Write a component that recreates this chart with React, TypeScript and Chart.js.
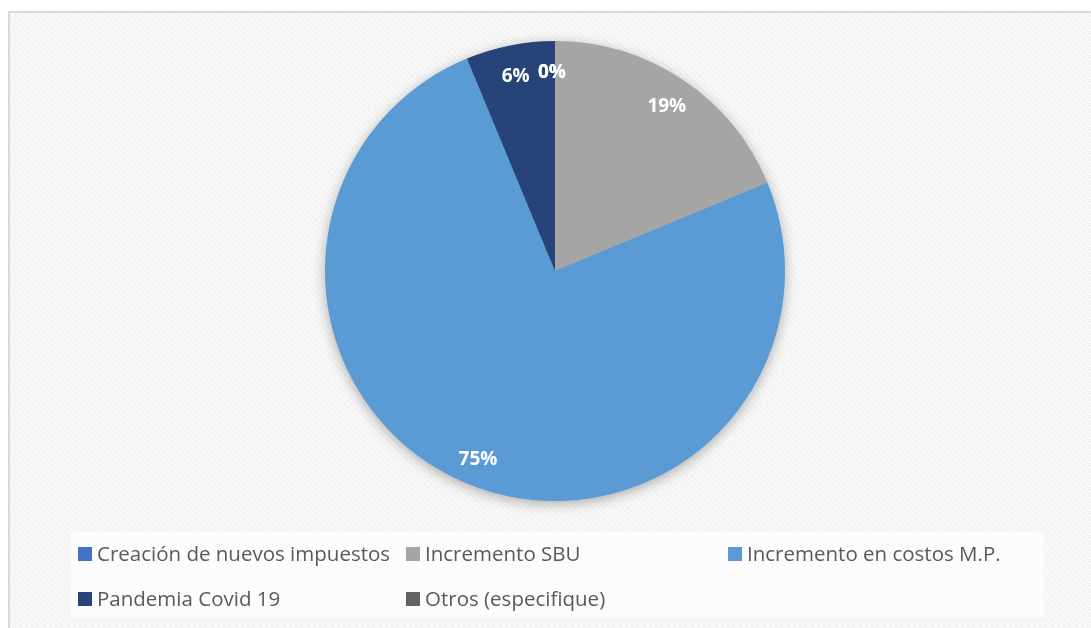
import React, { useEffect, useRef } from "react";
import { Chart, registerables } from "chart.js";

Chart.register(...registerables);

const categories = [
  "Creación de nuevos impuestos",
  "Incremento SBU",
  "Incremento en costos M.P.",
  "Pandemia Covid 19",
  "Otros (especifique)",
];
const responses = [0, 3, 12, 1, 0];
const sliceColors = ["#4472C4", "#A5A5A5", "#5B9BD5", "#264478", "#636363"];
const legendColumns = [78, 406, 728];
const legendRows = [554, 599];

const W = 1091;
const H = 628;

function makePattern(ctx: CanvasRenderingContext2D) {
  const c = document.createElement("canvas");
  c.width = 6;
  c.height = 6;
  const p = c.getContext("2d")!;
  p.fillStyle = "#fbfbfb";
  p.fillRect(0, 0, 6, 6);
  p.fillStyle = "#f1f1f1";
  for (let i = 0; i < 6; i++) {
    p.fillRect(i, i, 2, 1);
    p.fillRect((i + 3) % 6, i, 1, 1);
  }
  return ctx.createPattern(c, "repeat")!;
}

const backgroundPlugin = {
  id: "bgPlugin",
  beforeDraw(chart: any) {
    const ctx: CanvasRenderingContext2D = chart.ctx;
    ctx.save();
    ctx.fillStyle = "#ffffff";
    ctx.fillRect(0, 0, W, H);
    ctx.fillStyle = makePattern(ctx);
    ctx.fillRect(8, 11, W - 8, H - 11);
    ctx.strokeStyle = "#d9d9d9";
    ctx.lineWidth = 2;
    ctx.beginPath();
    ctx.moveTo(9, H);
    ctx.lineTo(9, 12);
    ctx.lineTo(W, 12);
    ctx.stroke();
    // legend box
    ctx.fillStyle = "#fcfcfc";
    ctx.fillRect(70, 532, 973, 85);
    ctx.restore();
  },
  beforeDatasetsDraw(chart: any) {
    const meta = chart.getDatasetMeta(0);
    const arc = meta.data[0];
    if (!arc) return;
    const ctx: CanvasRenderingContext2D = chart.ctx;
    ctx.save();
    ctx.shadowColor = "rgba(0,0,0,0.35)";
    ctx.shadowBlur = 14;
    ctx.shadowOffsetX = 0;
    ctx.shadowOffsetY = 3;
    ctx.fillStyle = "#5B9BD5";
    ctx.beginPath();
    ctx.arc(arc.x, arc.y, arc.outerRadius - 1, 0, Math.PI * 2);
    ctx.fill();
    ctx.restore();
  },
  afterDatasetsDraw(chart: any) {
    const ctx: CanvasRenderingContext2D = chart.ctx;
    const meta = chart.getDatasetMeta(0);
    const data: number[] = chart.data.datasets[0].data;
    const total = data.reduce((a, b) => a + b, 0);
    ctx.save();
    ctx.fillStyle = "#ffffff";
    ctx.font = "bold 19px 'Open Sans', sans-serif";
    ctx.textAlign = "center";
    ctx.textBaseline = "middle";
    meta.data.forEach((el: any, i: number) => {
      const mid = (el.startAngle + el.endAngle) / 2;
      const r = el.outerRadius * 0.875;
      let x = el.x + Math.cos(mid) * r;
      let y = el.y + Math.sin(mid) * r + 3;
      const pct = Math.round((data[i] / total) * 100) + "%";
      if (data[i] === 0) {
        x -= 3;
      }
      ctx.fillText(pct, x, y);
    });
    ctx.restore();
  },
  afterDraw(chart: any) {
    const ctx: CanvasRenderingContext2D = chart.ctx;
    const labels: string[] = chart.data.labels;
    const colors: string[] = chart.data.datasets[0].backgroundColor;
    ctx.save();
    ctx.font = "20.5px 'Open Sans', sans-serif";
    ctx.textBaseline = "middle";
    ctx.textAlign = "left";
    labels.forEach((lab, i) => {
      const col = i % 3;
      const row = Math.floor(i / 3);
      const x = legendColumns[col];
      const y = legendRows[row];
      ctx.fillStyle = colors[i];
      ctx.fillRect(x, y - 7, 14, 14);
      ctx.fillStyle = "#595959";
      ctx.fillText(lab, x + 19, y + 1);
    });
    ctx.restore();
  },
};

export default function App() {
  const ref = useRef<HTMLCanvasElement>(null);
  useEffect(() => {
    if (!ref.current) return;
    const chart = new Chart(ref.current, {
      type: "pie",
      data: {
        labels: categories,
        datasets: [
          {
            data: responses,
            backgroundColor: sliceColors,
            borderWidth: 0,
          },
        ],
      },
      options: {
        responsive: false,
        animation: false,
        layout: { padding: { top: 41, bottom: 127, left: 325, right: 306 } },
        plugins: {
          legend: { display: false },
          tooltip: { enabled: false },
        },
      },
      plugins: [backgroundPlugin],
    });
    return () => chart.destroy();
  }, []);
  return (
    <canvas
      ref={ref}
      width={W}
      height={H}
      style={{ position: "absolute", left: 0, top: 0, display: "block", width: W, height: H }}
    />
  );
}
